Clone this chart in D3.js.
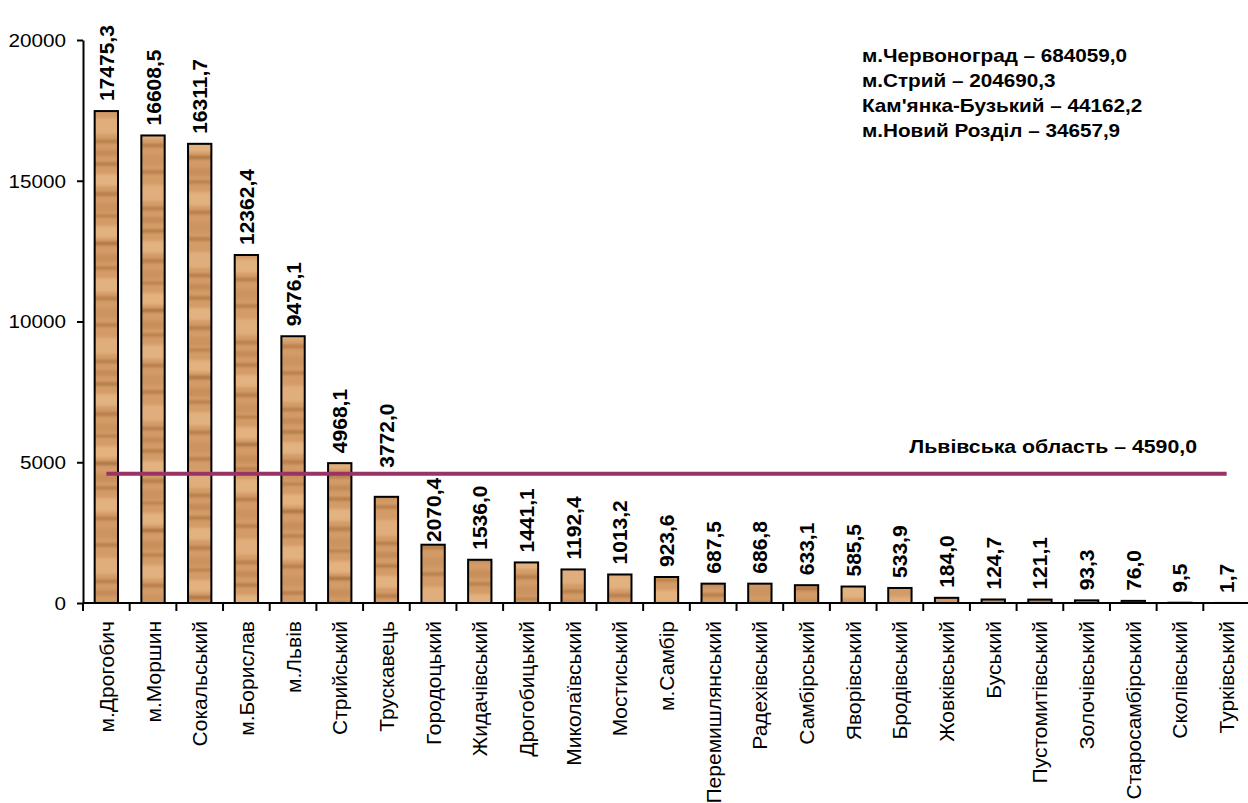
<!DOCTYPE html>
<html>
<head>
<meta charset="utf-8">
<script src="https://cdn.jsdelivr.net/npm/d3@7"></script>
<style>
    html, body {margin: 0; padding: 0; background: #fff;}
    .content {width: 1248px; height: 803px;}
    svg text {font-family: Arial, "Liberation Sans", sans-serif; fill: #000;}
</style>
</head>
<body>
<div class="content"></div>
<script>
// районы и города
let categories = ['м.Дрогобич', 'м.Моршин', 'Сокальський', 'м.Борислав', 'м.Львів', 'Стрийський',
    'Трускавець', 'Городоцький', 'Жидачівський', 'Дрогобицький', 'Миколаївський', 'Мостиський',
    'м.Самбір', 'Перемишлянський', 'Радехівський', 'Самбірський', 'Яворівський', 'Бродівський',
    'Жовківський', 'Буський', 'Пустомитівський', 'Золочівський', 'Старосамбірський', 'Сколівський',
    'Турківський'];
let values = [17475.3, 16608.5, 16311.7, 12362.4, 9476.1, 4968.1, 3772.0, 2070.4, 1536.0, 1441.1,
    1192.4, 1013.2, 923.6, 687.5, 686.8, 633.1, 585.5, 533.9, 184.0, 124.7, 121.1, 93.3, 76.0, 9.5, 1.7];
let yTicks = [0, 5000, 10000, 15000, 20000];
// среднее по области
let regionName = 'Львівська область';
let regionValue = 4590.0;
// значения, которые не влезли на график
let noteNames = ['м.Червоноград', 'м.Стрий', "Кам'янка-Бузький", 'м.Новий Розділ'];
let noteValues = [684059.0, 204690.3, 44162.2, 34657.9];

(function () {
    let width = 1248, height = 803;
    let left = 83, right = 1250, top = 40, bottom = 603;
    let sx = 1.15; // горизонтальный текст в оригинале растянут по ширине
    let fmt = function (v) { return v.toFixed(1).replace('.', ','); };

    let svg = d3.select('.content').append('svg')
        .attr('width', width)
        .attr('height', height);

    let x = d3.scaleBand()
        .domain(categories)
        .range([left, right])
        .paddingInner(0.5)
        .paddingOuter(0.25);

    let y = d3.scaleLinear()
        .domain([0, 20000])
        .range([bottom, top]);

    // текстура "дерево" для столбиков
    let defs = svg.append('defs');
    defs.append('filter').attr('id', 'soft')
        .attr('x', '-10%').attr('y', '-10%').attr('width', '120%').attr('height', '120%')
        .append('feGaussianBlur').attr('stdDeviation', '0.6 1.4');
    let texH = 220;
    // [y, высота, цвет, прозрачность]
    let stripes = [
        [6, 12, '#e9bb89', 0.7], [22, 3, '#93592a', 0.7], [34, 8, '#bd8450', 0.5], [47, 2, '#875022', 0.6],
        [58, 14, '#ebc090', 0.6], [77, 3, '#9c6232', 0.6], [88, 10, '#c48b58', 0.45], [104, 2, '#8c5628', 0.7],
        [118, 16, '#e8bb8a', 0.6], [140, 3, '#9a612f', 0.6], [150, 6, '#b67c49', 0.5], [163, 2, '#854f22', 0.7],
        [174, 12, '#ecc292', 0.6], [192, 4, '#9f6534', 0.55], [203, 9, '#c28a58', 0.45], [215, 2, '#93592a', 0.6]
    ];
    // у каждого столбика свой сдвиг текстуры
    categories.forEach(function (c, i) {
        let pat = defs.append('pattern')
            .attr('id', 'wood' + i)
            .attr('patternUnits', 'userSpaceOnUse')
            .attr('patternTransform', 'translate(0,' + ((i * 67) % texH) + ')')
            .attr('width', 30)
            .attr('height', texH);
        pat.append('rect').attr('width', 30).attr('height', texH).attr('fill', '#d39b67');
        let pg = pat.append('g').attr('filter', 'url(#soft)');
        stripes.forEach(function (s) {
            pg.append('rect')
                .attr('x', -5).attr('y', s[0])
                .attr('width', 40).attr('height', s[1])
                .attr('fill', s[2]).attr('opacity', s[3]);
        });
    });

    // столбики
    svg.append('g')
        .selectAll('rect')
        .data(values)
        .enter()
        .append('rect')
        .attr('x', function (d, i) { return x(categories[i]); })
        .attr('y', function (d) { return y(d); })
        .attr('width', x.bandwidth())
        .attr('height', function (d) { return bottom - y(d); })
        .attr('fill', function (d, i) { return 'url(#wood' + i + ')'; })
        .attr('stroke', '#000')
        .attr('stroke-width', 2);

    // ось Y
    let yAxis = d3.axisLeft(y)
        .tickValues(yTicks)
        .tickFormat(d3.format('d'))
        .tickSizeInner(6)
        .tickSizeOuter(0);
    let gY = svg.append('g')
        .attr('transform', 'translate(' + left + ',0)')
        .call(yAxis);
    gY.select('.domain').attr('stroke', '#000').attr('stroke-width', 2);
    gY.selectAll('.tick line').attr('stroke', '#000').attr('stroke-width', 2);
    gY.selectAll('.tick text')
        .style('font-size', '18px')
        .attr('x', 0)
        .attr('dy', '0.35em')
        .attr('transform', 'translate(-17,0) scale(' + sx + ',1)');

    // ось X: засечки между категориями
    let gX = svg.append('g');
    gX.append('line')
        .attr('x1', left).attr('x2', right)
        .attr('y1', bottom).attr('y2', bottom)
        .attr('stroke', '#000').attr('stroke-width', 2);
    let half = (x.step() - x.bandwidth()) / 2;
    gX.selectAll('.xtick')
        .data(categories)
        .enter()
        .append('line')
        .attr('class', 'xtick')
        .attr('x1', function (d) { return x(d) - half; })
        .attr('x2', function (d) { return x(d) - half; })
        .attr('y1', bottom).attr('y2', bottom + 8)
        .attr('stroke', '#000').attr('stroke-width', 2);

    gX.selectAll('.xlabel')
        .data(categories)
        .enter()
        .append('text')
        .attr('class', 'xlabel')
        .attr('text-anchor', 'end')
        .style('font-size', '21px')
        .attr('transform', function (d) {
            return 'translate(' + (x(d) + x.bandwidth() / 2 + 7.5) + ',' + 621 + ') rotate(-90)';
        })
        .text(function (d) { return d; });

    // линия среднего по области
    let lineY = y(regionValue);
    svg.append('line')
        .attr('x1', x(categories[0]) + x.bandwidth() / 2)
        .attr('x2', x(categories[categories.length - 1]) + x.bandwidth() / 2)
        .attr('y1', lineY).attr('y2', lineY)
        .attr('stroke', '#993366')
        .attr('stroke-width', 4);

    svg.append('text')
        .attr('text-anchor', 'end')
        .attr('transform', 'translate(1197,' + (lineY - 21) + ') scale(' + sx + ',1)')
        .style('font-size', '18.5px')
        .style('font-weight', 'bold')
        .text(regionName + ' – ' + fmt(regionValue));

    // подписи значений над столбиками
    let labels = svg.append('g')
        .selectAll('text')
        .data(values)
        .enter()
        .append('text')
        .style('font-size', '21px')
        .style('font-weight', 'bold')
        .text(function (d) { return fmt(d); });

    labels.each(function (d, i) {
        let len = this.getComputedTextLength();
        let barTop = y(d);
        let end = barTop - 10;        // низ подписи
        let start = end - len;        // верх подписи
        // если подпись залезает на линию области - сдвигаем
        if (start < lineY + 4 && end > lineY - 4) {
            let below = lineY + 4 + len;
            if (below <= barTop - 1) {
                end = below;
            } else {
                end = lineY - 6;
            }
        }
        let cx = x(categories[i]) + x.bandwidth() / 2 + 7.5;
        d3.select(this).attr('transform', 'translate(' + cx + ',' + end + ') rotate(-90)');
    });

    // примечание справа вверху
    svg.append('g')
        .selectAll('text')
        .data(noteNames)
        .enter()
        .append('text')
        .attr('transform', function (d, i) {
            return 'translate(862,' + (62 + i * 25) + ') scale(' + sx + ',1)';
        })
        .style('font-size', '18px')
        .style('font-weight', 'bold')
        .text(function (d, i) { return d + ' – ' + fmt(noteValues[i]); });
})();
</script>
</body>
</html>
